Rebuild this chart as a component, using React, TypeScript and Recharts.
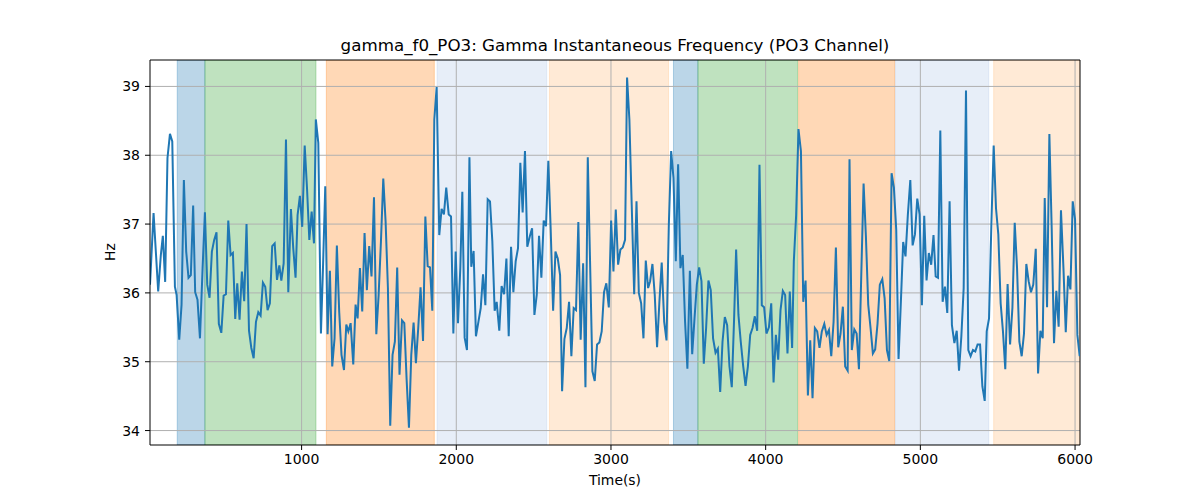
import { LineChart, Line, XAxis, YAxis, ReferenceArea, ReferenceLine } from 'recharts';

// time (s) of each sample
const sampleTimes = [
  20, 43, 73, 90, 103, 118, 133, 149, 164, 181, 192, 209, 224, 239, 254, 269, 284, 299, 312, 327,
  343, 360, 375, 390, 405, 420, 435, 450, 465, 481, 496, 511, 526, 541, 556, 571, 584, 599, 614, 629,
  644, 660, 675, 690, 705, 720, 735, 750, 765, 780, 795, 810, 826, 841, 856, 869, 884, 899, 914, 931,
  946, 961, 974, 989, 1004, 1020, 1035, 1050, 1065, 1080, 1092, 1108, 1125, 1138, 1153, 1168, 1183, 1198, 1213, 1228,
  1243, 1258, 1274, 1289, 1302, 1317, 1334, 1349, 1362, 1377, 1392, 1407, 1422, 1437, 1452, 1468, 1483, 1498, 1513, 1528,
  1543, 1558, 1573, 1588, 1603, 1618, 1633, 1649, 1664, 1679, 1694, 1709, 1724, 1739, 1754, 1769, 1785, 1800, 1815, 1830,
  1845, 1858, 1873, 1890, 1905, 1920, 1935, 1951, 1966, 1981, 1996, 2011, 2026, 2039, 2054, 2069, 2085, 2097, 2112, 2127,
  2143, 2158, 2173, 2188, 2203, 2218, 2233, 2248, 2261, 2278, 2293, 2309, 2324, 2339, 2354, 2369, 2384, 2399, 2414, 2429,
  2444, 2459, 2475, 2490, 2505, 2520, 2535, 2550, 2565, 2580, 2595, 2610, 2626, 2641, 2656, 2671, 2684, 2699, 2714, 2729,
  2744, 2759, 2774, 2789, 2804, 2820, 2835, 2850, 2865, 2880, 2895, 2910, 2925, 2940, 2955, 2970, 2986, 3001, 3016, 3031,
  3046, 3061, 3076, 3091, 3104, 3119, 3134, 3150, 3165, 3180, 3195, 3210, 3225, 3240, 3253, 3268, 3283, 3298, 3313, 3328,
  3344, 3359, 3374, 3389, 3404, 3419, 3434, 3449, 3464, 3479, 3494, 3510, 3525, 3540, 3555, 3570, 3585, 3600, 3615, 3630,
  3645, 3660, 3676, 3691, 3706, 3721, 3736, 3751, 3766, 3781, 3796, 3809, 3824, 3839, 3855, 3870, 3885, 3900, 3915, 3930,
  3945, 3960, 3975, 3990, 4005, 4021, 4036, 4051, 4066, 4081, 4096, 4111, 4126, 4141, 4156, 4171, 4182, 4197, 4212, 4228,
  4243, 4258, 4273, 4288, 4303, 4318, 4333, 4348, 4363, 4379, 4394, 4409, 4424, 4439, 4454, 4469, 4484, 4499, 4514, 4530,
  4542, 4557, 4573, 4588, 4603, 4618, 4633, 4648, 4663, 4678, 4693, 4708, 4723, 4738, 4754, 4769, 4784, 4799, 4814, 4829,
  4844, 4859, 4874, 4889, 4904, 4919, 4935, 4950, 4965, 4980, 4995, 5010, 5025, 5040, 5055, 5070, 5085, 5099, 5114, 5129,
  5144, 5159, 5174, 5189, 5204, 5220, 5235, 5250, 5265, 5280, 5295, 5310, 5325, 5340, 5355, 5370, 5386, 5401, 5416, 5429,
  5444, 5459, 5474, 5489, 5504, 5519, 5534, 5549, 5564, 5580, 5595, 5610, 5625, 5640, 5655, 5670, 5685, 5700, 5715, 5730,
  5746, 5761, 5776, 5791, 5804, 5819, 5834, 5849, 5864, 5879, 5894, 5909, 5925, 5940, 5955, 5970, 5985, 6000, 6015, 6030,
];

// gamma instantaneous frequency (Hz)
const gammaHz = [
  36.12, 37.16, 36.02, 36.55, 36.83, 36.16, 37.96, 38.31, 38.2, 36.09, 35.97, 35.32, 35.83, 37.64, 36.6, 36.22, 36.26, 37.27, 36.01, 35.9,
  35.34, 36.36, 37.17, 36.12, 35.93, 36.6, 36.77, 36.88, 35.55, 35.42, 35.96, 35.98, 37.05, 36.55, 36.58, 35.62, 36.14, 35.61, 36.31, 35.88,
  37.0, 35.45, 35.2, 35.05, 35.58, 35.72, 35.67, 36.15, 36.09, 35.75, 35.85, 36.68, 36.72, 36.19, 36.4, 36.18, 36.43, 38.23, 36.01, 37.22,
  36.65, 36.22, 37.13, 37.41, 36.96, 38.14, 37.52, 36.77, 37.18, 36.72, 38.52, 38.18, 35.41, 36.34, 37.55, 35.4, 36.32, 34.93, 35.34, 36.69,
  35.73, 35.1, 34.88, 35.54, 35.44, 35.56, 34.96, 35.83, 35.63, 36.36, 35.73, 36.87, 36.04, 36.68, 36.24, 37.39, 35.4, 35.97, 36.75, 37.66,
  37.04, 36.07, 34.07, 35.1, 35.29, 36.37, 34.81, 35.6, 35.56, 34.74, 34.04, 35.1, 35.57, 34.98, 35.49, 36.08, 35.3, 37.11, 36.39, 36.37,
  35.74, 38.52, 38.99, 36.84, 37.22, 37.14, 37.53, 37.14, 37.11, 35.41, 36.6, 35.56, 36.36, 37.47, 35.35, 35.17, 37.97, 36.38, 36.61, 35.37,
  35.58, 35.78, 36.27, 35.82, 37.36, 37.33, 36.75, 35.74, 35.87, 35.45, 36.1, 35.98, 36.5, 35.37, 36.67, 36.01, 36.46, 36.65, 37.89, 37.17,
  38.06, 36.67, 36.82, 36.94, 35.68, 35.97, 36.83, 36.22, 37.05, 36.97, 37.92, 36.94, 35.74, 36.6, 36.5, 36.26, 34.57, 35.33, 35.49, 35.87,
  35.08, 35.78, 35.75, 37.03, 35.32, 36.43, 34.63, 37.97, 36.43, 34.86, 34.72, 35.25, 35.28, 35.44, 36.01, 36.14, 35.79, 37.05, 36.31, 37.21,
  36.41, 36.63, 36.66, 36.77, 39.13, 38.52, 37.28, 35.98, 37.33, 36.0, 35.85, 35.34, 36.47, 36.07, 36.17, 36.42, 35.97, 35.21, 35.87, 36.44,
  35.58, 35.31, 36.99, 38.06, 37.67, 36.46, 37.87, 36.36, 36.55, 35.58, 34.9, 36.32, 35.11, 35.63, 36.12, 36.37, 36.17, 34.97, 35.49, 36.18,
  36.04, 35.34, 35.13, 35.19, 34.56, 35.29, 35.65, 35.53, 34.93, 34.63, 35.63, 36.63, 35.68, 35.29, 34.93, 34.65, 34.93, 35.39, 35.49, 35.66,
  35.45, 37.86, 35.82, 35.79, 35.41, 35.5, 35.85, 34.7, 35.39, 35.03, 35.75, 36.03, 35.97, 35.12, 36.02, 35.2, 36.46, 37.13, 38.38, 38.06,
  35.87, 36.18, 34.51, 35.31, 34.47, 35.49, 35.44, 35.2, 35.44, 35.55, 35.39, 35.46, 35.08, 35.58, 36.66, 35.21, 35.41, 35.8, 34.93, 34.87,
  37.94, 35.17, 35.47, 35.41, 34.89, 36.26, 37.59, 36.82, 35.83, 35.49, 35.12, 35.18, 35.55, 36.12, 36.2, 35.92, 35.17, 35.01, 37.74, 37.53,
  36.92, 35.04, 35.87, 36.74, 36.53, 37.13, 37.64, 36.69, 36.85, 37.37, 37.14, 35.82, 37.12, 36.18, 36.58, 36.41, 36.84, 36.24, 36.22, 38.36,
  35.87, 36.09, 35.71, 37.33, 35.53, 35.27, 35.45, 34.87, 35.37, 36.07, 38.94, 35.17, 35.08, 35.17, 35.15, 35.25, 35.25, 34.64, 34.43, 35.44,
  35.63, 36.99, 38.14, 37.23, 36.85, 35.85, 35.44, 34.89, 36.13, 35.25, 35.78, 37.02, 36.36, 35.29, 35.08, 35.41, 36.42, 36.17, 36.01, 36.12,
  36.64, 34.83, 35.45, 35.34, 37.38, 35.79, 38.31, 36.94, 35.27, 36.03, 35.51, 37.2, 36.36, 35.43, 36.25, 36.05, 37.33, 37.07, 35.39, 35.08,
];

// shaded task phases
const bandStarts = [196, 375, 1160, 1876, 2602, 3404, 3562, 4213, 4838, 5474];
const bandEnds = [375, 1093, 1858, 2585, 3372, 3562, 4206, 4834, 5442, 6032];
const bandKinds = ['blue', 'green', 'orange', 'lightBlue', 'lightOrange', 'blue', 'green', 'orange', 'lightBlue', 'lightOrange'];

const xTicks = [1000, 2000, 3000, 4000, 5000, 6000];
const yTicks = [34, 35, 36, 37, 38, 39];

const bandColor: Record<string, string> = {
  blue: '#1f77b4',
  green: '#2ca02c',
  orange: '#ff7f0e',
  lightBlue: '#aec7e8',
  lightOrange: '#ffbb78',
};

const FONT = "'DejaVu Sans', sans-serif";
const X_DOMAIN: [number, number] = [20, 6032];
const Y_DOMAIN: [number, number] = [33.79, 39.384];

export default function App() {
  const data = sampleTimes.map((t, i) => ({ t, hz: gammaHz[i] }));
  const tickStyle = { fill: '#000', fontSize: 14, fontFamily: FONT };

  return (
    <div style={{ position: 'absolute', left: 0, top: 0, width: 1200, height: 500, background: '#fff' }}>
      <LineChart width={1200} height={500} data={data} margin={{ top: 60, right: 120, bottom: 25, left: 90 }}>
        {bandStarts.map((s, i) => (
          <ReferenceArea
            key={i}
            x1={s}
            x2={bandEnds[i]}
            fill={bandColor[bandKinds[i]]}
            fillOpacity={0.3}
            stroke={bandColor[bandKinds[i]]}
            strokeOpacity={0.3}
            ifOverflow="hidden"
          />
        ))}
        {/* grid drawn as reference lines so it sits above the bands, like matplotlib */}
        {xTicks.map((v) => (
          <ReferenceLine key={`gx${v}`} x={v} stroke="#b0b0b0" strokeWidth={1} />
        ))}
        {yTicks.map((v) => (
          <ReferenceLine key={`gy${v}`} y={v} stroke="#b0b0b0" strokeWidth={1} />
        ))}
        {/* top and right spines */}
        <ReferenceLine y={Y_DOMAIN[1]} stroke="#000" strokeWidth={1} />
        <ReferenceLine x={X_DOMAIN[1]} stroke="#000" strokeWidth={1} />
        <XAxis
          dataKey="t"
          type="number"
          domain={X_DOMAIN}
          ticks={xTicks}
          allowDataOverflow
          height={30}
          tickSize={5}
          tickMargin={4}
          tick={tickStyle}
          tickLine={{ stroke: '#000' }}
          axisLine={{ stroke: '#000' }}
        />
        <YAxis
          type="number"
          domain={Y_DOMAIN}
          ticks={yTicks}
          allowDataOverflow
          width={60}
          tickSize={5}
          tickMargin={5}
          tick={tickStyle}
          tickLine={{ stroke: '#000' }}
          axisLine={{ stroke: '#000' }}
        />
        <Line
          type="linear"
          dataKey="hz"
          stroke="#1f77b4"
          strokeWidth={2}
          dot={false}
          isAnimationActive={false}
        />
      </LineChart>
      <div style={{ position: 'absolute', left: 150, width: 930, top: 35, textAlign: 'center', fontFamily: FONT, fontSize: 16.7, lineHeight: '20px' }}>
        gamma_f0_PO3: Gamma Instantaneous Frequency (PO3 Channel)
      </div>
      <div style={{ position: 'absolute', left: 150, width: 930, top: 472, textAlign: 'center', fontFamily: FONT, fontSize: 13.9, lineHeight: '17px' }}>
        Time(s)
      </div>
      <div style={{ position: 'absolute', left: 80, top: 244, width: 60, textAlign: 'center', fontFamily: FONT, fontSize: 13.9, lineHeight: '17px', transform: 'rotate(-90deg)', transformOrigin: '30px 8px' }}>
        Hz
      </div>
    </div>
  );
}
